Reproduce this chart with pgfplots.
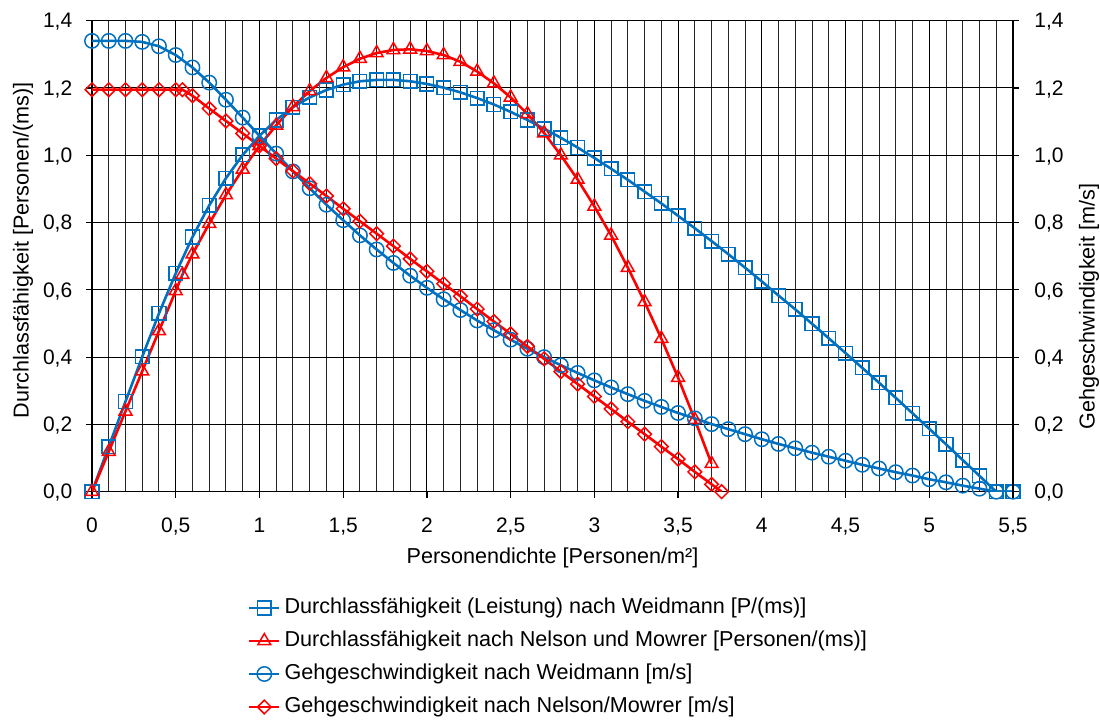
\documentclass[border=0pt]{standalone}
\usepackage{fontspec}
\setmainfont{Liberation Sans}
\usepackage{pgfplots}
\pgfplotsset{compat=1.18}
\definecolor{wblue}{RGB}{0,112,192}
\definecolor{nred}{RGB}{255,0,0}
\begin{document}
\begin{tikzpicture}
\useasboundingbox (-46pt,-114.15pt) rectangle (504pt,245.85pt);
\begin{axis}[
  at={(0,0)}, anchor=south west,
  scale only axis, width=460.5pt, height=235.5pt,
  xmin=0, xmax=5.5, ymin=0, ymax=1.4,
  xtick={0,0.5,1,1.5,2,2.5,3,3.5,4,4.5,5,5.5},
  minor x tick num=4,
  ytick={0,0.2,0.4,0.6,0.8,1.0,1.2,1.4},
  xmajorgrids, xminorgrids, ymajorgrids,
  major grid style={black, line width=0.5pt},
  minor grid style={black!85, line width=0.5pt},
  axis line style={black, line width=0.6pt},
  tick style={black, line width=0.6pt},
  tick align=outside, tick pos=left,
  major tick length=3pt, minor tick length=0pt,
  /pgf/number format/assume math mode=true,
  ticklabel style={font=\fontsize{10.5}{12}\selectfont, inner sep=0pt, text height=7.2pt, text depth=0pt},
  x tick label style={/pgf/number format/.cd, use comma, fixed, precision=1, /tikz/.cd, anchor=north},
  y tick label style={/pgf/number format/.cd, use comma, fixed, fixed zerofill, precision=1, /tikz/.cd, anchor=east},
  xticklabel shift=9.9pt,
  yticklabel shift=6.7pt,
  xlabel={Personendichte [Personen/m²]},
  ylabel={Durchlassfähigkeit [Personen/(ms)]},
  every axis x label/.style={at={(axis description cs:0.5,-0.1401)}, anchor=center, font=\fontsize{10.8}{13}\selectfont},
  every axis y label/.style={at={(axis description cs:-0.0749,0.513)}, anchor=center, rotate=90, font=\fontsize{10.8}{13}\selectfont},
  legend style={at={(axis description cs:0.1694,-0.2246)}, anchor=north west, draw=none, fill=none,
    inner sep=0pt, outer sep=0pt, row sep=6pt, column sep=2pt,
    font=\fontsize{10.8}{13}\selectfont,
    nodes={inner sep=0pt, text height=8pt, text depth=2.5pt}},
  legend cell align=left,
  legend image code/.code={\draw[mark repeat=2,mark phase=2,#1] plot coordinates {(0pt,0pt) (7.5pt,0pt) (15pt,0pt)};},
]
\addplot[wblue, line width=1.3pt, mark=square, mark size=3.4pt, mark options={fill=white, line width=0.75pt, solid}] coordinates {
(0,0) (0.1,0.134) (0.2,0.268) (0.3,0.401) (0.4,0.530) (0.5,0.649) (0.6,0.757) (0.7,0.851) (0.8,0.932) (0.9,1.001)
(1.0,1.058) (1.1,1.105) (1.2,1.143) (1.3,1.172) (1.4,1.194) (1.5,1.210) (1.6,1.220) (1.7,1.224) (1.8,1.224) (1.9,1.220)
(2.0,1.212) (2.1,1.201) (2.2,1.187) (2.3,1.170) (2.4,1.151) (2.5,1.129) (2.6,1.105) (2.7,1.079) (2.8,1.052) (2.9,1.023)
(3.0,0.992) (3.1,0.960) (3.2,0.927) (3.3,0.892) (3.4,0.857) (3.5,0.820) (3.6,0.783) (3.7,0.745) (3.8,0.706) (3.9,0.666)
(4.0,0.625) (4.1,0.583) (4.2,0.542) (4.3,0.499) (4.4,0.456) (4.5,0.412) (4.6,0.368) (4.7,0.324) (4.8,0.279) (4.9,0.233)
(5.0,0.187) (5.1,0.141) (5.2,0.094) (5.3,0.047) (5.4,0) (5.5,0)};
\addlegendentry{Durchlassfähigkeit (Leistung) nach Weidmann [P/(ms)]}
\addplot[nred, line width=1.3pt, mark=triangle, mark size=3.7pt, mark options={fill=white, line width=0.75pt, solid}] coordinates {
(0,0) (0.1,0.119) (0.2,0.239) (0.3,0.358) (0.4,0.478) (0.5,0.597) (0.54,0.645) (0.6,0.706) (0.7,0.797) (0.8,0.882) (0.9,0.958)
(1.0,1.028) (1.1,1.089) (1.2,1.144) (1.3,1.191) (1.4,1.230) (1.5,1.262) (1.6,1.287) (1.7,1.304) (1.8,1.313) (1.9,1.315)
(2.0,1.310) (2.1,1.298) (2.2,1.278) (2.3,1.249) (2.4,1.214) (2.5,1.172) (2.6,1.123) (2.7,1.066) (2.8,1.000) (2.9,0.928)
(3.0,0.848) (3.1,0.762) (3.2,0.666) (3.3,0.564) (3.4,0.455) (3.5,0.339) (3.6,0.214) (3.7,0.083)};
\addlegendentry{Durchlassfähigkeit nach Nelson und Mowrer [Personen/(ms)]}
\addplot[wblue, line width=1.3pt, mark=o, mark size=3.6pt, mark options={fill=white, line width=0.75pt, solid}] coordinates {
(0,1.34) (0.1,1.34) (0.2,1.34) (0.3,1.337) (0.4,1.324) (0.5,1.298) (0.6,1.261) (0.7,1.216) (0.8,1.165) (0.9,1.112)
(1.0,1.058) (1.1,1.005) (1.2,0.952) (1.3,0.902) (1.4,0.853) (1.5,0.807) (1.6,0.762) (1.7,0.720) (1.8,0.680) (1.9,0.642)
(2.0,0.606) (2.1,0.572) (2.2,0.540) (2.3,0.509) (2.4,0.480) (2.5,0.452) (2.6,0.425) (2.7,0.400) (2.8,0.376) (2.9,0.353)
(3.0,0.331) (3.1,0.310) (3.2,0.290) (3.3,0.270) (3.4,0.252) (3.5,0.234) (3.6,0.218) (3.7,0.201) (3.8,0.186) (3.9,0.171)
(4.0,0.156) (4.1,0.142) (4.2,0.129) (4.3,0.116) (4.4,0.104) (4.5,0.092) (4.6,0.080) (4.7,0.069) (4.8,0.058) (4.9,0.048)
(5.0,0.037) (5.1,0.028) (5.2,0.018) (5.3,0.009) (5.4,0) (5.5,0)};
\addlegendentry{Gehgeschwindigkeit nach Weidmann [m/s]}
\addplot[nred, line width=1.3pt, mark=square, mark size=2.4pt, mark options={fill=white, line width=0.75pt, solid, rotate=45}] coordinates {
(0,1.195) (0.1,1.195) (0.2,1.195) (0.3,1.195) (0.4,1.195) (0.5,1.195) (0.54,1.195) (0.6,1.177) (0.7,1.139) (0.8,1.102) (0.9,1.065)
(1.0,1.028) (1.1,0.990) (1.2,0.953) (1.3,0.916) (1.4,0.879) (1.5,0.841) (1.6,0.804) (1.7,0.767) (1.8,0.730) (1.9,0.692)
(2.0,0.655) (2.1,0.618) (2.2,0.581) (2.3,0.543) (2.4,0.506) (2.5,0.469) (2.6,0.432) (2.7,0.395) (2.8,0.357) (2.9,0.320)
(3.0,0.283) (3.1,0.246) (3.2,0.208) (3.3,0.171) (3.4,0.134) (3.5,0.097) (3.6,0.059) (3.7,0.022) (3.76,0)};
\addlegendentry{Gehgeschwindigkeit nach Nelson/Mowrer [m/s]}
\end{axis}
\begin{axis}[
  at={(0,0)}, anchor=south west,
  scale only axis, width=460.5pt, height=235.5pt,
  xmin=0, xmax=5.5, ymin=0, ymax=1.4,
  axis x line=none, axis y line*=right,
  ytick={0,0.2,0.4,0.6,0.8,1.0,1.2,1.4},
  axis line style={black, line width=0.6pt, -},
  tick style={black, line width=0.6pt},
  tick align=outside, major tick length=3pt,
  /pgf/number format/assume math mode=true,
  ticklabel style={font=\fontsize{10.5}{12}\selectfont, inner sep=0pt, text height=7.2pt, text depth=0pt},
  y tick label style={/pgf/number format/.cd, use comma, fixed, fixed zerofill, precision=1, /tikz/.cd, anchor=west},
  yticklabel shift=7.5pt,
  ylabel={Gehgeschwindigkeit [m/s]},
  every axis y label/.style={at={(axis description cs:1.0825,0.393)}, anchor=center, rotate=90, font=\fontsize{10.8}{13}\selectfont},
]
\addplot[draw=none] coordinates {(0,0)};
\end{axis}
\end{tikzpicture}
\end{document}
